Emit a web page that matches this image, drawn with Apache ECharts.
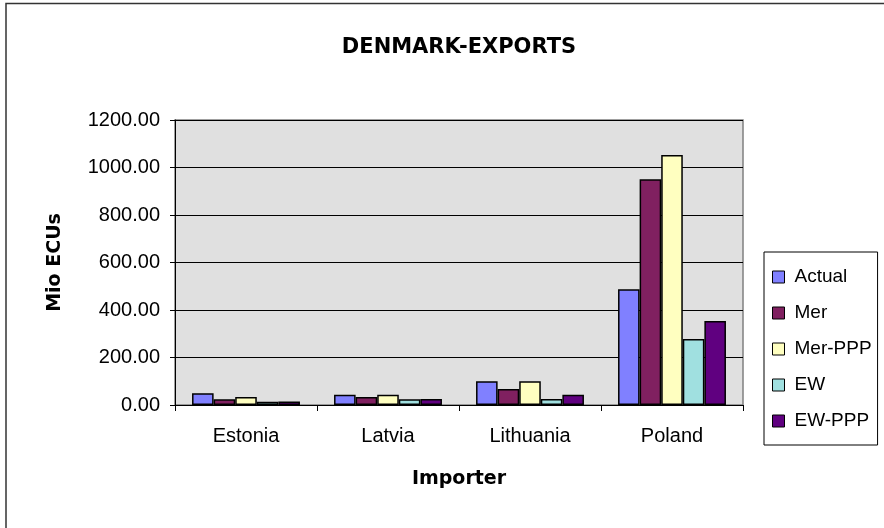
<!DOCTYPE html>
<html>
<head>
<meta charset="utf-8">
<script src="https://cdn.jsdelivr.net/npm/echarts@6/dist/echarts.min.js"></script>
<style>
  html, body { margin: 0; padding: 0; background: #fff; }
  #chart { width: 884px; height: 528px; }
</style>
</head>
<body>
<div id="chart"></div>
<script>
// data
const importers = ["Estonia", "Latvia", "Lithuania", "Poland"];
const seriesNames = ["Actual", "Mer", "Mer-PPP", "EW", "EW-PPP"];
const actual = [50, 43, 100, 487];
const mer = [24, 34, 67, 951];
const merPPP = [34, 43, 100, 1053];
const ew = [14, 24, 25, 278];
const ewPPP = [15, 25, 43, 354];
const colors = ["#8080FF", "#802060", "#FFFFC0", "#A0E0E0", "#600080"];

const chart = echarts.init(document.getElementById("chart"));
const values = [actual, mer, merPPP, ew, ewPPP];
const font = "Liberation Sans, Arial, sans-serif";
const boldFont = "DejaVu Sans, sans-serif";

chart.setOption({
  animation: false,
  title: {
    text: "DENMARK-EXPORTS",
    left: 454,
    top: 32,
    textAlign: "center",
    textStyle: { fontFamily: boldFont, fontSize: 21, fontWeight: "bold", color: "#000" },
  },
  graphic: [
    // chart frame (only the top and left edges are visible)
    {
      type: "polyline",
      shape: { points: [[6, 528], [6, 3.5], [884, 3.5]] },
      style: { fill: "none", stroke: "#333", lineWidth: 1.5 },
    },
  ],
  legend: {
    orient: "vertical",
    left: 764,
    top: 252,
    padding: [15, 6, 14, 8],
    itemGap: 16,
    itemWidth: 12,
    itemHeight: 12,
    icon: "rect",
    borderColor: "#000",
    borderWidth: 1,
    itemStyle: { borderColor: "#000", borderWidth: 1 },
    textStyle: { fontFamily: font, fontSize: 19, lineHeight: 20, color: "#000", padding: [0, 0, 0, 5] },
    data: seriesNames,
  },
  grid: {
    left: 175,
    right: 141,
    top: 120,
    bottom: 123,
    show: true,
    backgroundColor: "#E0E0E0",
    borderColor: "#808080",
    borderWidth: 1.5,
  },
  xAxis: {
    type: "category",
    data: importers,
    name: "Importer",
    nameLocation: "middle",
    nameGap: 65,
    nameTextStyle: { fontFamily: boldFont, fontSize: 19, fontWeight: "bold", color: "#000" },
    axisLine: { lineStyle: { color: "#000", width: 1 } },
    axisTick: { show: true, length: 6, lineStyle: { color: "#000" } },
    axisLabel: { fontFamily: font, fontSize: 20, color: "#000", margin: 21 },
  },
  yAxis: {
    type: "value",
    min: 0,
    max: 1200,
    interval: 200,
    name: "Mio ECUs",
    nameLocation: "middle",
    nameGap: 110,
    nameTextStyle: { fontFamily: boldFont, fontSize: 19, fontWeight: "bold", color: "#000" },
    axisLine: { show: true, lineStyle: { color: "#000", width: 1 } },
    axisTick: { show: true, length: 5, lineStyle: { color: "#000" } },
    axisLabel: {
      fontFamily: font,
      fontSize: 20,
      color: "#000",
      margin: 15,
      formatter: (v) => v.toFixed(2),
    },
    splitLine: { show: true, lineStyle: { color: "#000", width: 1 } },
  },
  series: seriesNames.map((name, i) => ({
    name: name,
    type: "bar",
    data: values[i],
    barGap: "0%",
    barCategoryGap: "24%",
    itemStyle: { color: colors[i], borderColor: "#000", borderWidth: 1.5 },
  })),
});
</script>
</body>
</html>
